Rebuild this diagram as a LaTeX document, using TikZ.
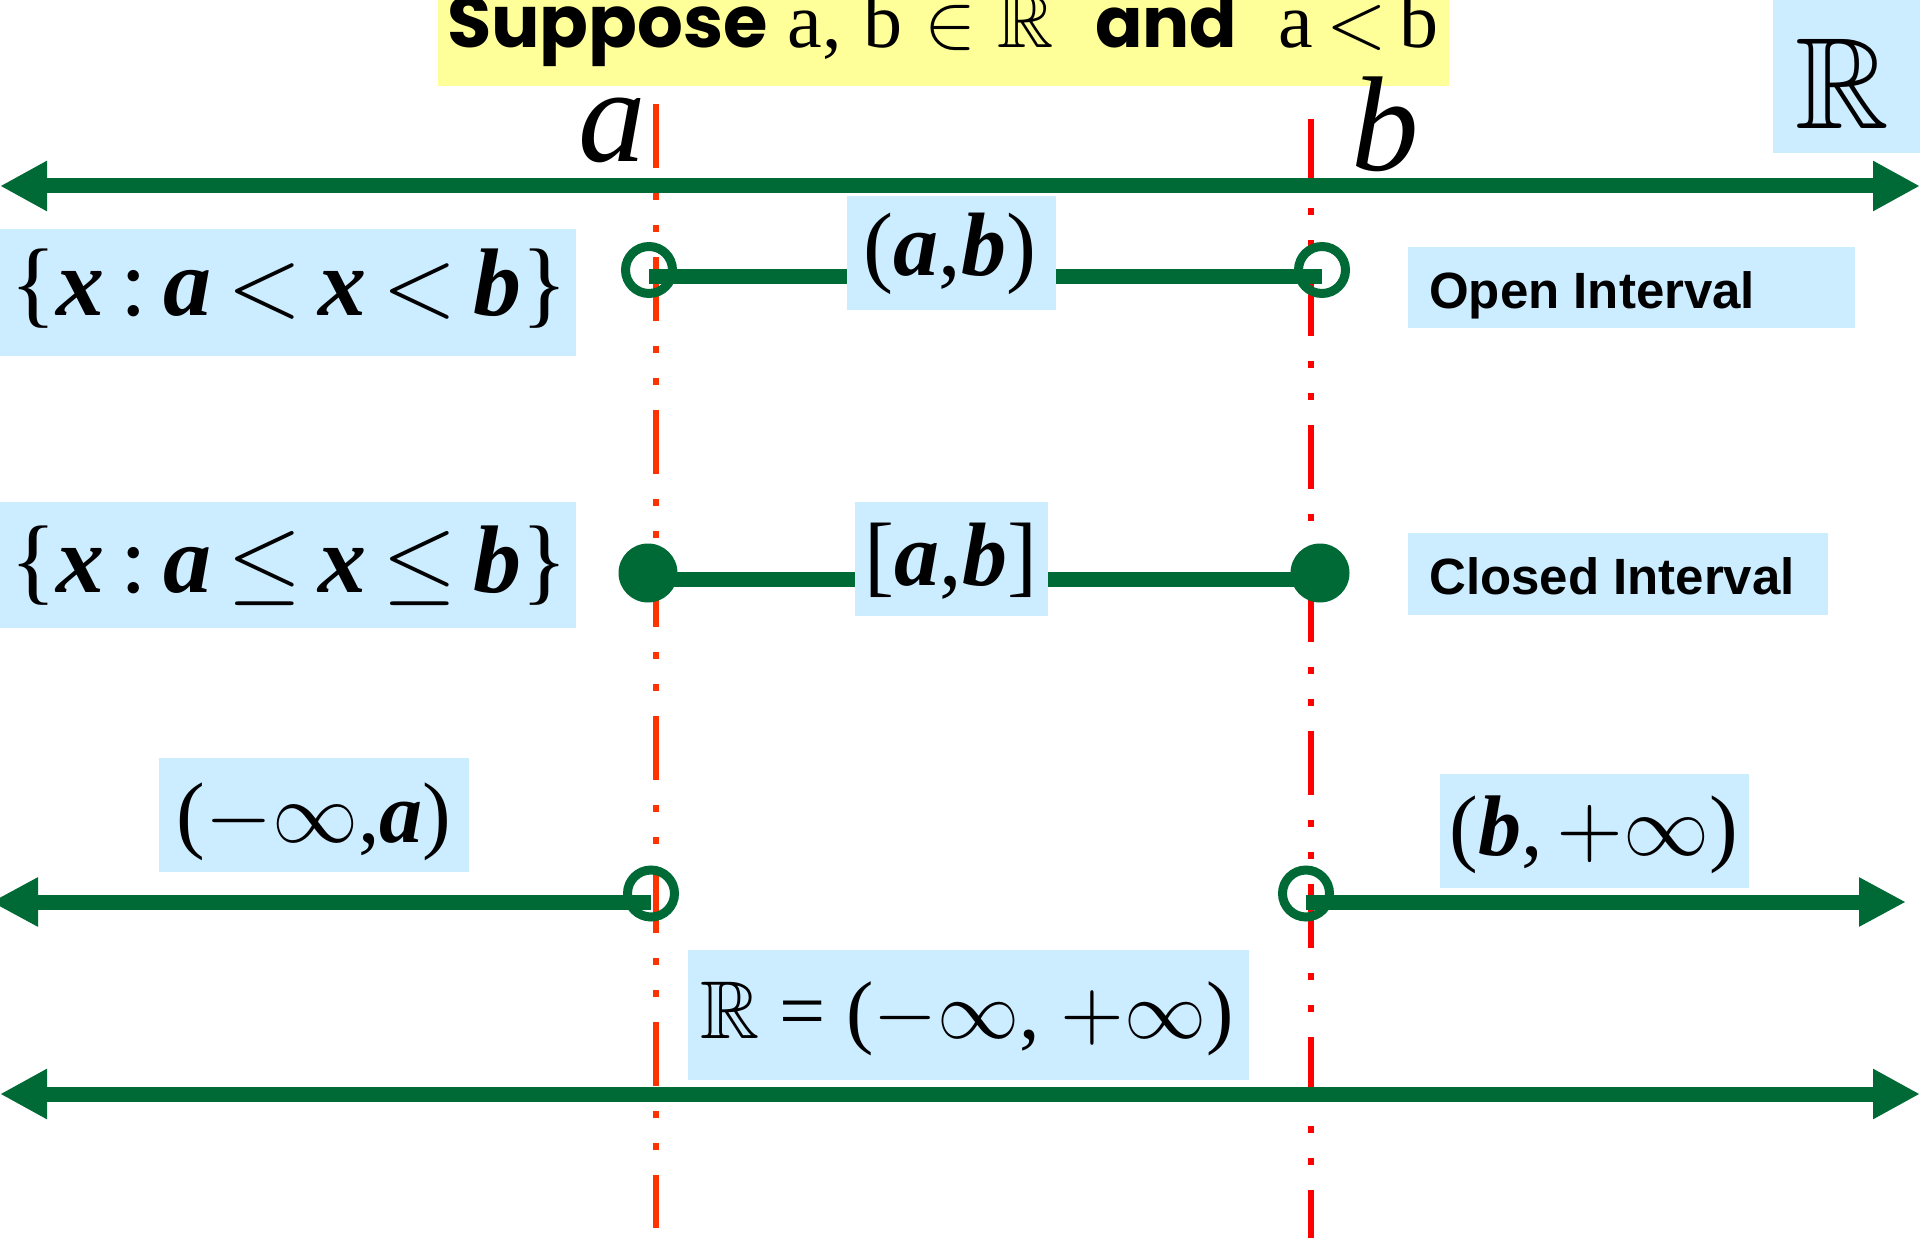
\documentclass[tikz,border=0pt]{standalone}
\usepackage{fontspec}
\usepackage{amssymb}
\DeclareFontFamily{U}{msb}{}
\DeclareFontShape{U}{msb}{m}{n}{<-> msbm10}{}
\DeclareFontShape{OMS}{cmsy}{m}{n}{<-> cmsy10}{}
\DeclareFontShape{OML}{cmm}{m}{it}{<-> cmmi10}{}
\DeclareFontShape{OT1}{cmr}{m}{n}{<-> cmr10}{}
\setmainfont{Liberation Serif}
\newfontfamily\sansb{Liberation Sans}
\newfontfamily\titlef{Poppins}
\usetikzlibrary{arrows.meta}
\definecolor{gr}{RGB}{0,106,54}
\definecolor{lb}{RGB}{204,236,255}
\definecolor{yl}{RGB}{255,255,153}
\definecolor{ra}{RGB}{255,51,0}
\definecolor{rb}{RGB}{255,0,0}
\pgfdeclarelayer{bg}
\pgfsetlayers{bg,main}
\newcommand\bi[1]{{\bfseries\itshape #1}}
\newcommand\fsz[1]{\fontsize{#1}{#1}\selectfont}
\begin{document}
\begin{tikzpicture}[x=1pt,y=-1pt,
  grn/.style={draw=gr, line width=15pt},
  dbltip/.style={{Triangle[length=47pt,width=47pt]}-{Triangle[length=47pt,width=47pt]}},
  righttip/.style={-{Triangle[length=47pt,width=46pt]}},
  opendot/.style={circle, draw=gr, line width=9pt, minimum size=47pt, inner sep=0pt},
  filldot/.style={circle, fill=gr, minimum size=59pt, inner sep=0pt},
  box/.style={fill=lb, inner sep=0pt, outer sep=0pt},
  redln/.style={line width=6pt, dash pattern=on 64pt off 25pt on 7pt off 25pt on 7pt off 25pt},
  lbl/.style={anchor=base, inner sep=0pt},
  itv/.style={anchor=base west, inner sep=0pt, font=\sansb\bfseries\fsz{51}}]
\useasboundingbox (0,0) rectangle (1920,1238);

% title
\node[box, fill=yl, minimum width=1011pt, minimum height=86pt] (tbox) at (943.5,43) {};
\node[lbl] (title) at (943,48) {{\titlef\bfseries\fsz{72}Suppose}\fsz{78} a,\;b\;$\in$\;$\mathbb{R}$\; {\titlef\bfseries\fsz{70}and}\;\fsz{78} a\,$<$\,b};

% R box top right
\node[box, minimum width=147pt, minimum height=153pt] (rbox) at (1846.5,76.5) {};
\node[lbl] (rlab) at (1842,129) {\fsz{130}$\mathbb{R}$};

% a, b labels
\node[lbl] (alab) at (612,162) {\fsz{135}\itshape a};
\node[lbl] (blab) at (1385,171) {\fsz{135}\itshape b};

% row 1: open interval
\node[opendot] (o1L) at (649,270) {};
\node[opendot] (o1R) at (1322,270) {};
\node[box, minimum width=209pt, minimum height=114pt] (ab1box) at (951.5,253) {};
\node[lbl] (ab1) at (950,276) {\fsz{90}(\bi{a},\bi{b})};
\node[box, minimum width=576pt, minimum height=127pt] (s1box) at (288,292.5) {};
\node[lbl] (s1) at (289,316) {\fsz{96}\{\bi{x}\,:\,\bi{a}\,$<$\,\bi{x}\,$<$\,\bi{b}\}};
\node[box, minimum width=447pt, minimum height=81pt] (openbox) at (1631.5,287.5) {};
\node[itv] (open) at (1429,309) {Open Interval};

% row 2: closed interval
\node[filldot] (c2L) at (648,573) {};
\node[filldot] (c2R) at (1320,573) {};
\node[box, minimum width=193pt, minimum height=114pt] (ab2box) at (951.5,559) {};
\node[lbl] (ab2) at (951,585) {\fsz{90}[\bi{a},\bi{b}]};
\node[box, minimum width=576pt, minimum height=126pt] (s2box) at (288,565) {};
\node[lbl] (s2) at (289,592) {\fsz{96}\{\bi{x}\,:\,\bi{a}\,$\le$\,\bi{x}\,$\le$\,\bi{b}\}};
\node[box, minimum width=420pt, minimum height=82pt] (closedbox) at (1618,574) {};
\node[itv] (closed) at (1429,594) {Closed Interval};

% row 3: rays
\node[opendot] (o3L) at (651,893.5) {};
\node[opendot] (o3R) at (1306,893.5) {};
\node[box, minimum width=310pt, minimum height=114pt] (rayLbox) at (314,815) {};
\node[lbl] (rayL) at (314,842) {\fsz{86}($-\infty$,\bi{a})};
\node[box, minimum width=309pt, minimum height=114pt] (rayRbox) at (1594.5,831) {};
\node[lbl] (rayR) at (1594,855) {\fsz{86}(\bi{b},\,$+\infty$)};

% row 4: whole line
\node[box, minimum width=561pt, minimum height=130pt] (allbox) at (968.5,1015) {};
\node[lbl] (all) at (967,1038) {\fsz{82}$\mathbb{R}$ = ($-\infty$, $+\infty$)};

\begin{pgfonlayer}{bg}
  \coordinate (rAt) at (656,104); \coordinate (rAb) at (656,1228);
  \coordinate (rBt) at (1311,119); \coordinate (rBb) at (1311,1238);
  \draw[redln, draw=ra] (rAt) -- (rAb);
  \draw[redln, draw=rb] (rBt) -- (rBb);
  \coordinate (ax1L) at (0,186); \coordinate (ax1R) at (1920,186);
  \draw[grn, dbltip] (ax1L) -- (ax1R);
  \draw[grn] ([yshift=-7pt]o1L.center) -- ([yshift=-7pt]o1R.center);
  \draw[grn] ([yshift=-6pt]c2L.center) -- ([yshift=-6pt]c2R.center);
  \coordinate (ax3L) at (-9,902); \coordinate (ax3R) at (1906,902);
  \draw[grn, righttip] ([yshift=-8.5pt]o3L.center) -- (ax3L);
  \draw[grn, righttip] ([yshift=-8.5pt]o3R.center) -- (ax3R);
  \coordinate (ax4L) at (0,1094); \coordinate (ax4R) at (1920,1094);
  \draw[grn, dbltip] (ax4L) -- (ax4R);
\end{pgfonlayer}
\end{tikzpicture}
\end{document}
